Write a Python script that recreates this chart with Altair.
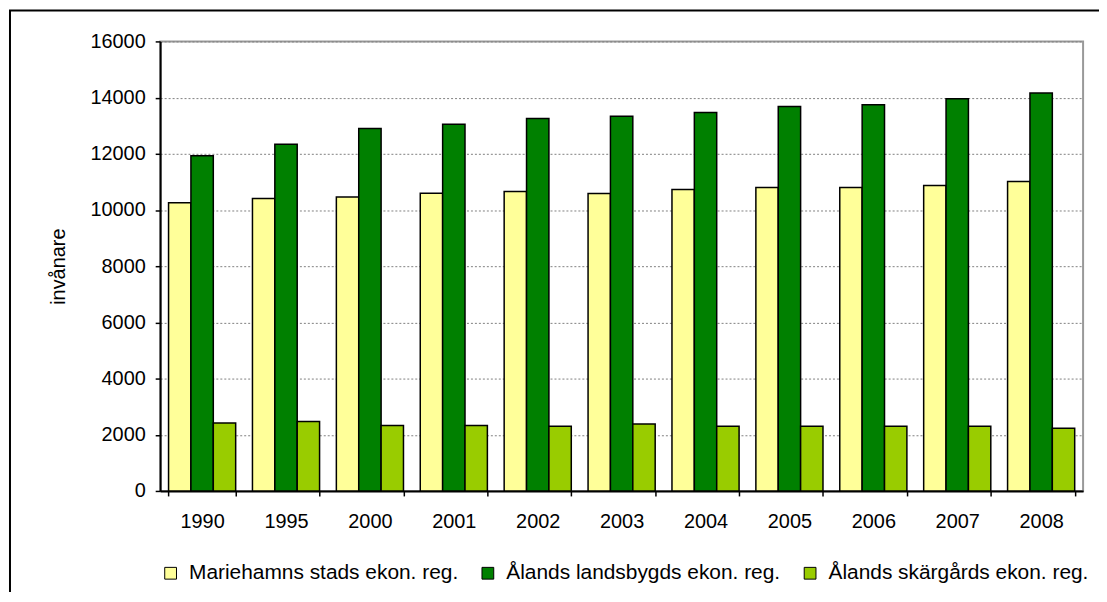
import altair as alt
import pandas as pd

years = ["1990", "1995", "2000", "2001", "2002", "2003", "2004", "2005", "2006", "2007", "2008"]
series = ["Mariehamns stads ekon. reg.", "Ålands landsbygds ekon. reg.", "Ålands skärgårds ekon. reg."]
mariehamn = [10260, 10410, 10460, 10600, 10660, 10590, 10730, 10800, 10800, 10870, 11010]
landsbygd = [11930, 12340, 12900, 13050, 13260, 13340, 13470, 13680, 13750, 13960, 14160]
skargard = [2420, 2470, 2330, 2330, 2300, 2380, 2300, 2300, 2300, 2300, 2230]
colors = ["#FFFF99", "#008000", "#99CC00"]
y_ticks = [0, 2000, 4000, 6000, 8000, 10000, 12000, 14000, 16000]

rows = []
for s, vals in zip(series, [mariehamn, landsbygd, skargard]):
    for yr, v in zip(years, vals):
        rows.append({"year": yr, "region": s, "value": v})
df = pd.DataFrame(rows)

FONT = "Liberation Sans"

bars = alt.Chart(df).mark_bar(stroke="black", strokeWidth=1.5).encode(
    x=alt.X("year:N", sort=years, title=None,
            scale=alt.Scale(paddingInner=0.2, paddingOuter=0.1),
            axis=alt.Axis(labelAngle=0, tickBand="extent", grid=False,
                          labelPadding=16, tickSize=5, tickWidth=1.5,
                          domainWidth=2)),
    xOffset=alt.XOffset("region:N", sort=series,
                        scale=alt.Scale(paddingInner=0, paddingOuter=0)),
    y=alt.Y("value:Q", scale=alt.Scale(domain=[0, 16000]),
            axis=alt.Axis(values=y_ticks, format="d", title="invånare", grid=True,
                          gridColor="#808080", gridDash=[2, 2], gridWidth=1,
                          tickSize=5, tickWidth=1.5, domainWidth=2,
                          labelPadding=10, titleX=-102, titleY=226,
                          titleAngle=-90, titleAlign="center",
                          titleBaseline="middle")),
    color=alt.Color("region:N", sort=series,
                    scale=alt.Scale(domain=series, range=colors),
                    legend=alt.Legend(title=None, orient="none", direction="horizontal",
                                      legendX=0, legendY=524, symbolType="square",
                                      symbolSize=140, symbolStrokeColor="black",
                                      symbolStrokeWidth=1, columnPadding=19,
                                      labelOffset=8, labelLimit=0)),
)

frame = alt.Chart(pd.DataFrame({"k": [0]})).mark_rect(
    fillOpacity=0, stroke="black", strokeWidth=2
).encode(
    x=alt.value(-151), x2=alt.value(1200), y=alt.value(-31), y2=alt.value(800)
)

chart = alt.layer(bars, frame).properties(
    width=928, height=452,
    autosize=alt.AutoSizeParams(type="none"),
    padding={"left": 153, "top": 32, "right": 16, "bottom": 100},
).configure_view(
    stroke="#999999", strokeWidth=2
).configure_axis(
    labelFont=FONT, labelFontSize=20, labelColor="black",
    titleFont=FONT, titleFontSize=20, titleFontWeight="normal", titleColor="black",
    tickColor="black", domainColor="black"
).configure_legend(
    labelFont=FONT, labelFontSize=21, labelColor="black"
)

chart.save("out.html", embed_options={"renderer": "svg", "actions": False})
